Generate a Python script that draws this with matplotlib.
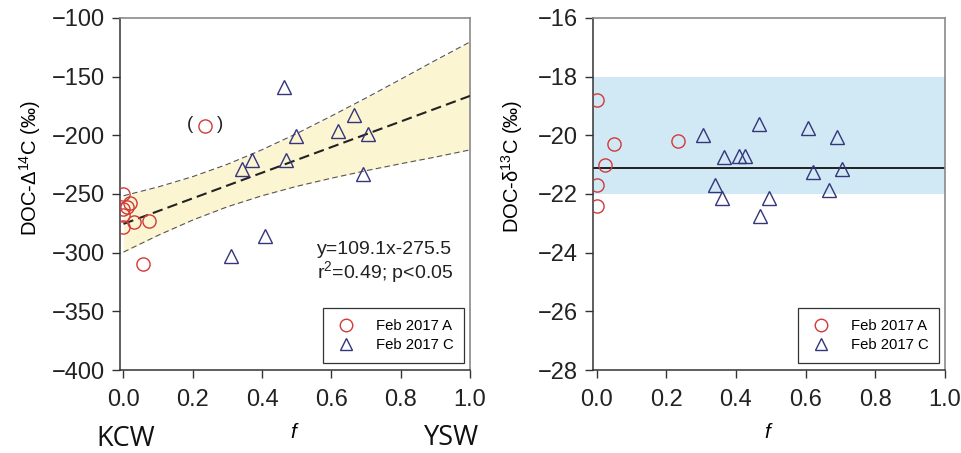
import matplotlib
matplotlib.use('Agg')
import matplotlib.pyplot as plt
from matplotlib.lines import Line2D
import numpy as np

plt.rcParams['font.family'] = ['Liberation Sans', 'DejaVu Sans']
plt.rcParams['mathtext.fontset'] = 'custom'
plt.rcParams['mathtext.rm'] = 'Liberation Sans'
plt.rcParams['mathtext.it'] = 'Liberation Sans:italic'
plt.rcParams['axes.unicode_minus'] = True

# ---- left panel: DOC-D14C vs f ----
f_A = [0.0, 0.02, 0.0, 0.01, 0.0, 0.0, 0.03, 0.075, 0.055]
d14C_A = [-250, -258, -263, -261, -268, -278, -274, -273, -310]
f_A_excl = 0.235          # point shown in parentheses
d14C_A_excl = -192
f_C = [0.464, 0.666, 0.620, 0.497, 0.705, 0.371, 0.342, 0.469, 0.691, 0.407, 0.309]
d14C_C = [-159, -183, -196, -201, -199, -221, -229, -221, -233, -286, -303]

slope, intercept = 109.1, -275.5
band_f = [0.0, 0.1, 0.2, 0.3, 0.4, 0.5, 0.6, 0.7, 0.8, 0.9, 1.0]
band_halfwidth = [24.0, 20.6, 18.5, 18.1, 19.6, 22.5, 26.5, 31.0, 36.0, 41.2, 46.0]

# ---- right panel: DOC-d13C vs f ----
f_A13 = [0.0, 0.051, 0.024, 0.0, 0.0, 0.233]
d13C_A = [-18.8, -20.3, -21.0, -21.7, -22.4, -20.2]
f_C13 = [0.306, 0.465, 0.606, 0.689, 0.367, 0.409, 0.425, 0.622, 0.705,
         0.339, 0.359, 0.495, 0.667, 0.469]
d13C_C = [-20.0, -19.6, -19.75, -20.05, -20.75, -20.7, -20.7, -21.25, -21.15,
          -21.7, -22.15, -22.15, -21.85, -22.75]
d13C_mean = -21.1
d13C_range = (-22.0, -18.0)

red = '#d03a3a'
navy = '#35357c'
ms = 9.5

fig = plt.figure(figsize=(9.61, 4.53), dpi=100)
ax1 = fig.add_axes([0.1249, 0.1832, 0.3642, 0.7771])
ax2 = fig.add_axes([0.6171, 0.1832, 0.3663, 0.7771])


def style_axes(ax):
    for s in ['left', 'bottom']:
        ax.spines[s].set_color('#333333')
        ax.spines[s].set_linewidth(1.1)
    for s in ['top', 'right']:
        ax.spines[s].set_color('#8a8a8a')
        ax.spines[s].set_linewidth(1.2)
    ax.tick_params(direction='out', length=6, width=1, colors='#333333',
                   labelcolor='#222222', labelsize=17, top=False, right=False)
    ax.tick_params(axis='x', pad=8)
    ax.tick_params(axis='y', pad=5)
    ax.set_xlim(-0.01, 1.0)
    ax.set_xticks([0.0, 0.2, 0.4, 0.6, 0.8, 1.0])
    ax.set_xticklabels(['0.0', '0.2', '0.4', '0.6', '0.8', '1.0'])
    ax.set_xlabel('$f$', fontsize=15, labelpad=8)


def add_legend(ax):
    handles = [
        Line2D([], [], ls='none', marker='o', mfc='none', mec=red, ms=9, mew=1),
        Line2D([], [], ls='none', marker='^', mfc='none', mec=navy, ms=9, mew=1),
    ]
    leg = ax.legend(handles, ['Feb 2017 A', 'Feb 2017 C'], loc='lower right',
                    bbox_to_anchor=(0.984, 0.019), borderaxespad=0,
                    fontsize=10.7, fancybox=False, framealpha=1,
                    edgecolor='#333333', handletextpad=1.2, borderpad=0.75,
                    labelspacing=0.35, handlelength=1.6)
    leg.get_frame().set_linewidth(0.9)


# left panel
xx = np.array(band_f)
yy = slope * xx + intercept
hw = np.array(band_halfwidth)
ax1.fill_between(xx, yy - hw, yy + hw, color='#fcf5d2', lw=0, zorder=1)
ax1.plot(xx, yy + hw, ls=(0, (5, 3)), color='#555555', lw=0.8, zorder=2)
ax1.plot(xx, yy - hw, ls=(0, (5, 3)), color='#555555', lw=0.8, zorder=2)
ax1.plot(xx, yy, ls=(0, (5, 2.5)), color='#222222', lw=1.5, zorder=3)

ax1.plot(f_A, d14C_A, ls='none', marker='o', mfc='none', mec=red, ms=ms, mew=1, zorder=4)
ax1.plot([f_A_excl], [d14C_A_excl], ls='none', marker='o', mfc='none', mec=red,
         ms=ms, mew=1, zorder=4)
ax1.annotate('(', (f_A_excl, d14C_A_excl), xytext=(-15, 1), textcoords='offset pixels',
             ha='center', va='center', fontsize=13.5, color='#222222')
ax1.annotate(')', (f_A_excl, d14C_A_excl), xytext=(15, 1), textcoords='offset pixels',
             ha='center', va='center', fontsize=13.5, color='#222222')
ax1.plot(f_C, d14C_C, ls='none', marker='^', mfc='none', mec=navy, ms=ms, mew=1, zorder=4)

ax1.text(0.563, 0.341, 'y=109.1x-275.5', transform=ax1.transAxes,
         fontsize=14, color='#222222', ha='left', va='center')
ax1.text(0.563, 0.278, 'r$^2$=0.49; p<0.05', transform=ax1.transAxes,
         fontsize=14, color='#222222', ha='left', va='center')

ax1.set_ylim(-400, -100)
ax1.set_yticks(range(-400, -99, 50))
ax1.set_ylabel('DOC-Δ$^{14}$C (‰)', fontsize=14.5)
ax1.yaxis.set_label_coords(-0.22, 0.572)
style_axes(ax1)
add_legend(ax1)

# right panel
ax2.axhspan(d13C_range[0], d13C_range[1], color='#d0e9f4', lw=0, zorder=1)
ax2.axhline(d13C_mean, color='#111111', lw=1.3, zorder=2)
ax2.plot(f_A13, d13C_A, ls='none', marker='o', mfc='none', mec=red, ms=ms, mew=1, zorder=4)
ax2.plot(f_C13, d13C_C, ls='none', marker='^', mfc='none', mec=navy, ms=ms, mew=1, zorder=4)
ax2.set_ylim(-28, -16)
ax2.set_yticks(range(-28, -15, 2))
ax2.set_ylabel('DOC-δ$^{13}$C (‰)', fontsize=14.5)
ax2.yaxis.set_label_coords(-0.193, 0.578)
style_axes(ax2)
add_legend(ax2)

# end-member labels
fig.text(126 / 961, 1 - 439 / 453, 'KCW', fontsize=19.5, family='Open Sans',
         ha='center', va='center', color='#111111')
fig.text(452 / 961, 1 - 438 / 453, 'YSW', fontsize=19.5, family='Open Sans',
         ha='center', va='center', color='#111111')

fig.savefig('out.png', dpi=100)
